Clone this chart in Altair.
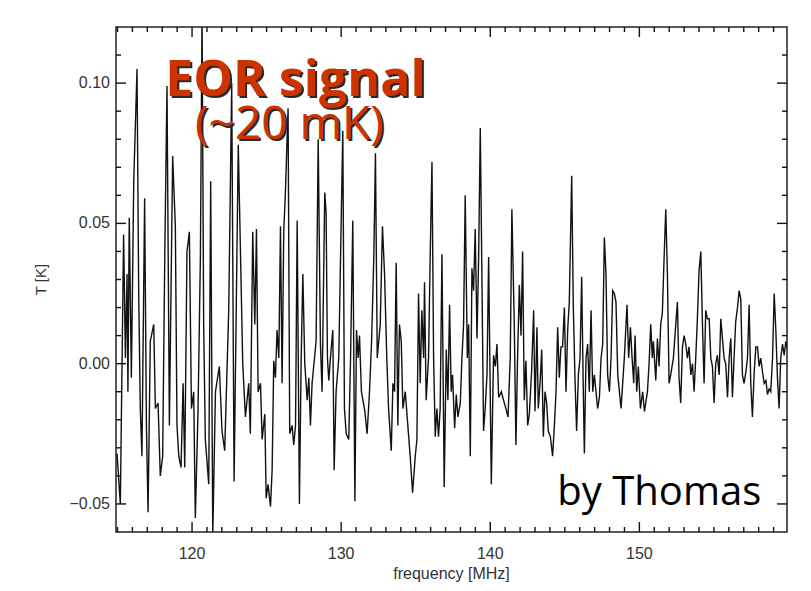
import altair as alt
import pandas as pd

# ---- data (frequency in MHz, brightness temperature in K) ----
FREQ = [
    114.97, 115.19, 115.41, 115.53, 115.64, 115.70, 115.79, 115.93, 116.09, 116.31,
    116.42, 116.53, 116.64, 116.82, 116.94, 117.05, 117.20, 117.43, 117.54, 117.72,
    117.87, 118.03, 118.17, 118.32, 118.48, 118.70, 118.88, 118.99, 119.11, 119.26,
    119.40, 119.51, 119.66, 119.82, 119.96, 120.11, 120.22, 120.40, 120.56, 120.67,
    120.78, 120.89, 121.12, 121.25, 121.39, 121.57, 121.83, 122.01, 122.19, 122.46,
    122.66, 122.82, 123.10, 123.40, 123.58,
    123.80, 123.91, 124.07, 124.21, 124.32, 124.43, 124.59, 124.70, 124.88, 124.97,
    125.10, 125.26, 125.37, 125.48, 125.59, 125.70, 125.82, 125.93, 126.04, 126.15,
    126.26, 126.44, 126.55, 126.71, 126.82, 126.94, 127.05, 127.20, 127.32, 127.43,
    127.56, 127.72, 127.83, 127.94, 128.05, 128.32, 128.46, 128.61, 128.72, 128.90,
    128.99, 129.08, 129.17, 129.28, 129.44, 129.53, 129.66, 129.84, 129.96, 130.11,
    130.22, 130.34, 130.51, 130.63, 130.78, 130.92, 131.03, 131.14, 131.23, 131.36,
    131.59, 131.74, 131.90, 132.04, 132.19, 132.30, 132.42,
    132.62, 132.77, 132.91, 133.06, 133.18, 133.36, 133.47, 133.58, 133.69, 133.80,
    133.91, 134.03, 134.14, 134.30, 134.47, 134.63, 134.79, 134.97, 135.08, 135.19,
    135.30, 135.41, 135.53, 135.59, 135.70, 135.86, 135.97, 136.09, 136.20, 136.31,
    136.42, 136.53, 136.64, 136.76, 136.91, 137.05, 137.16, 137.27, 137.38, 137.47,
    137.61, 137.72, 137.83, 137.99, 138.10, 138.21, 138.32, 138.46, 138.55, 138.66,
    138.77, 138.88, 138.99, 139.11, 139.22, 139.33, 139.44, 139.55, 139.66, 139.78,
    139.89, 140.07, 140.22, 140.34, 140.45, 140.56, 140.74, 140.89, 141.05, 141.19,
    141.34, 141.45,
    141.61, 141.72, 141.83, 141.95, 142.06, 142.17, 142.28, 142.39, 142.51, 142.62,
    142.77, 142.91, 143.00, 143.13, 143.22, 143.36, 143.45, 143.56, 143.67, 143.78,
    143.89, 144.03, 144.18, 144.30, 144.41, 144.52, 144.63, 144.74, 144.85, 144.97,
    145.08, 145.19, 145.30, 145.46, 145.57, 145.68, 145.79, 145.91, 146.02, 146.13,
    146.24, 146.31, 146.42, 146.53, 146.64, 146.76, 146.87, 146.98, 147.09, 147.20,
    147.32, 147.43, 147.54, 147.65, 147.76, 147.87, 147.99, 148.10, 148.21, 148.32,
    148.43, 148.55, 148.66, 148.77, 148.88, 148.99, 149.17, 149.28, 149.40, 149.51,
    149.62, 149.71, 149.82, 149.93, 150.07, 150.22, 150.34,
    150.54, 150.65, 150.76, 150.87, 150.94, 151.10, 151.21, 151.32, 151.43, 151.54,
    151.66, 151.77, 151.88, 151.99, 152.10, 152.28, 152.44, 152.55, 152.66, 152.77,
    152.89, 153.00, 153.11, 153.22, 153.33, 153.45, 153.56, 153.67, 153.78, 153.89,
    154.00, 154.12, 154.23, 154.34, 154.45, 154.56, 154.68, 154.79, 154.90, 155.01,
    155.12, 155.23, 155.35, 155.46, 155.57, 155.68, 155.79, 155.91, 156.02, 156.13,
    156.24, 156.35, 156.46, 156.58, 156.69, 156.80, 156.91, 157.02, 157.14, 157.25,
    157.36, 157.47, 157.58, 157.70, 157.81, 157.92, 158.03, 158.14, 158.26, 158.37,
    158.49, 158.59, 158.70, 158.81, 158.93, 159.04, 159.15, 159.26, 159.37, 159.48,
    159.60, 159.71, 159.82, 159.93,
]

TEMP = [
    -0.032, -0.050, 0.046, 0.002, 0.032, -0.010, 0.052, -0.005, 0.065, 0.105,
    0.026, -0.016, -0.033, 0.059, -0.022, -0.053, 0.008, 0.014, -0.016, -0.014,
    -0.040, -0.033, 0.038, 0.099, -0.022, 0.074, 0.049, -0.022, -0.033, -0.037,
    -0.007, -0.037, 0.040, 0.047, -0.016, -0.010, -0.055, -0.017, 0.038, 0.125,
    0.014, -0.027, -0.043, 0.065, -0.061, -0.010, -0.001, -0.024, -0.031, 0.019,
    0.100, -0.042, 0.078, 0.000, -0.019,
    -0.007, -0.025, 0.047, 0.014, 0.048, -0.010, -0.007, -0.027, -0.018, -0.048,
    -0.043, -0.051, -0.038, 0.001, -0.005, 0.012, 0.002, 0.049, -0.007, 0.047,
    0.061, 0.091, -0.025, -0.022, -0.029, -0.022, 0.051, -0.050, 0.002, 0.032,
    0.000, -0.013, -0.005, -0.022, -0.007, 0.008, 0.080, 0.007, -0.010, 0.061,
    0.054, 0.002, -0.006, 0.002, 0.012, -0.038, -0.010, 0.002, 0.038, 0.083,
    -0.016, -0.025, -0.027, 0.002, 0.051, -0.049, 0.012, 0.002, 0.010, -0.010,
    -0.017, -0.025, -0.010, 0.008, 0.038, 0.075, 0.002,
    0.014, 0.049, 0.032, 0.002, -0.016, -0.031, -0.007, -0.010, 0.036, -0.022,
    0.014, 0.008, -0.016, -0.010, -0.022, -0.033, -0.046, -0.033, -0.027, 0.025,
    -0.007, 0.019, 0.002, 0.029, -0.013, 0.002, 0.038, 0.072, 0.002, -0.026,
    -0.016, -0.026, -0.016, 0.039, -0.044, 0.005, -0.013, 0.021, -0.010, -0.004,
    -0.023, -0.011, -0.019, -0.014, 0.002, 0.014, 0.060, 0.002, 0.014, -0.033,
    0.034, 0.026, 0.048, 0.009, 0.038, 0.084, 0.031, -0.024, -0.016, -0.004,
    0.038, -0.043, 0.003, -0.001, 0.007, -0.012, -0.010, -0.013, -0.016, -0.019,
    0.002, 0.055,
    0.014, -0.029, 0.002, 0.028, 0.010, 0.040, -0.013, 0.001, -0.022, -0.018,
    -0.003, 0.019, -0.017, 0.013, -0.016, -0.005, 0.005, -0.026, -0.010, -0.014,
    -0.024, -0.026, -0.033, -0.022, -0.010, 0.013, -0.005, 0.006, 0.006, 0.020,
    -0.010, 0.012, 0.022, 0.067, 0.020, -0.005, -0.024, -0.004, 0.002, 0.031,
    -0.010, -0.032, 0.002, 0.007, -0.010, 0.019, -0.010, -0.004, -0.010, -0.016,
    -0.012, 0.002, 0.007, 0.045, 0.032, -0.004, -0.010, 0.002, 0.026, 0.025,
    0.022, -0.004, -0.010, -0.016, -0.007, 0.002, 0.021, 0.002, 0.013, 0.002,
    -0.007, 0.010, -0.010, -0.001, -0.016, -0.010, -0.017,
    -0.010, 0.000, 0.014, 0.002, 0.008, -0.006, 0.009, -0.001, 0.014, 0.018,
    0.038, 0.055, 0.032, -0.007, -0.004, 0.002, 0.014, 0.022, -0.005, -0.014,
    0.006, 0.010, 0.007, 0.002, 0.006, -0.004, 0.000, -0.010, 0.002, 0.016,
    0.033, 0.040, 0.014, -0.007, 0.019, 0.016, 0.016, 0.002, -0.001, -0.014,
    0.000, 0.003, -0.004, 0.016, 0.009, 0.002, 0.000, -0.012, 0.002, 0.009,
    -0.012, 0.002, 0.015, 0.020, 0.026, 0.023, -0.004, -0.007, -0.003, 0.002,
    0.021, -0.007, -0.019, -0.003, 0.006, 0.006, -0.001, 0.002, -0.003, -0.007,
    -0.006, -0.011, -0.009, -0.010, 0.002, 0.025, 0.012, -0.005, -0.016, 0.002,
    0.007, 0.003, 0.008, 0.005,
]

X_DOMAIN = [114.9, 159.9]
Y_DOMAIN = [-0.06, 0.12]
X_MAJOR = [120, 130, 140, 150]
X_LABELS = ["120", "130", "140", "150"]
X_MINOR = [115, 116, 117, 118, 119, 121, 122, 123, 124, 125, 126, 127, 128, 129,
           131, 132, 133, 134, 135, 136, 137, 138, 139, 141, 142, 143, 144, 145,
           146, 147, 148, 149, 151, 152, 153, 154, 155, 156, 157, 158, 159]
Y_MAJOR = [-0.05, 0.0, 0.05, 0.10]
Y_LABELS = ["\u22120.05", "0.00", "0.05", "0.10"]
Y_MINOR = [-0.04, -0.03, -0.02, -0.01, 0.01, 0.02, 0.03, 0.04,
           0.06, 0.07, 0.08, 0.09, 0.11]
X_TITLE = "frequency [MHz]"
Y_TITLE = "T [K]"

ANNOT_TEXT = ["EOR signal", "(~20 mK)", "by Thomas"]
ANNOT_FREQ = [118.2, 120.2, 144.5]
ANNOT_T = [0.0955, 0.0800, -0.0502]

W, H = 671, 505
# tick lengths expressed in data units (10 px major, 5 px minor)
XT_MAJ = (Y_DOMAIN[1] - Y_DOMAIN[0]) * 10 / H
XT_MIN = XT_MAJ / 2
YT_MAJ = (X_DOMAIN[1] - X_DOMAIN[0]) * 10 / W
YT_MIN = YT_MAJ / 2

df = pd.DataFrame({"freq": FREQ, "T": TEMP})

xs = alt.Scale(domain=X_DOMAIN, nice=False, zero=False)
ys = alt.Scale(domain=Y_DOMAIN, nice=False, zero=False)

AX_FONT = "Liberation Sans"
AX_COLOR = "#333333"

line = alt.Chart(df).mark_line(color="#111", strokeWidth=1.4, clip=True).encode(
    x=alt.X("freq:Q", scale=xs, axis=None),
    y=alt.Y("T:Q", scale=ys, axis=None),
)

# ---- tick marks on all four sides, pointing inwards (as short line segments) ----
ylo, yhi = Y_DOMAIN
xlo, xhi = X_DOMAIN
tick_rows = []
tid = 0
for values, t_len in ((X_MAJOR, XT_MAJ), (X_MINOR, XT_MIN)):
    for v in values:
        for edge, sign in ((ylo, 1), (yhi, -1)):
            tick_rows.append({"freq": v, "T": edge, "tid": tid})
            tick_rows.append({"freq": v, "T": edge + sign * t_len, "tid": tid})
            tid += 1
for values, f_len in ((Y_MAJOR, YT_MAJ), (Y_MINOR, YT_MIN)):
    for v in values:
        for edge, sign in ((xlo, 1), (xhi, -1)):
            tick_rows.append({"freq": edge, "T": v, "tid": tid})
            tick_rows.append({"freq": edge + sign * f_len, "T": v, "tid": tid})
            tid += 1
tick_df = pd.DataFrame(tick_rows)

ticks = alt.Chart(tick_df).mark_line(color="#111111", strokeWidth=1.4).encode(
    x=alt.X("freq:Q", scale=xs, axis=None),
    y=alt.Y("T:Q", scale=ys, axis=None),
    detail="tid:N",
)

# tick labels (drawn from the tick value lists through the scales)
x_lab = alt.Chart(pd.DataFrame({"freq": X_MAJOR, "lab": X_LABELS})).mark_text(
    font=AX_FONT, fontSize=16, color=AX_COLOR, align="center", baseline="top",
).encode(x=alt.X("freq:Q", scale=xs, axis=None), y=alt.value(H + 14),
         text="lab:N")

y_lab = alt.Chart(pd.DataFrame({"T": Y_MAJOR, "lab": Y_LABELS})).mark_text(
    font=AX_FONT, fontSize=16, color=AX_COLOR, align="right", baseline="middle",
).encode(y=alt.Y("T:Q", scale=ys, axis=None), x=alt.value(-6),
         text="lab:N")

x_title = alt.Chart(pd.DataFrame({"t": [X_TITLE]})).mark_text(
    font=AX_FONT, fontSize=16, color=AX_COLOR, align="center", baseline="middle",
).encode(x=alt.value(W / 2), y=alt.value(H + 42), text="t:N")

y_title = alt.Chart(pd.DataFrame({"t": [Y_TITLE]})).mark_text(
    font=AX_FONT, fontSize=15, color=AX_COLOR, align="center", baseline="middle",
    angle=270,
).encode(x=alt.value(-75), y=alt.value(H / 2), text="t:N")


def text_layer(i, color, size, weight, dx=0, dy=0):
    d = pd.DataFrame({"freq": [ANNOT_FREQ[i]], "T": [ANNOT_T[i]],
                      "label": [ANNOT_TEXT[i]]})
    return alt.Chart(d).mark_text(
        align="left", baseline="alphabetic", font="Open Sans",
        fontSize=size, fontWeight=weight, color=color, dx=dx, dy=dy,
    ).encode(
        x=alt.X("freq:Q", scale=xs, axis=None),
        y=alt.Y("T:Q", scale=ys, axis=None),
        text="label:N",
    )


ORANGE = "#cc3300"
SHADOW = "#2a2a2a"
texts = [
    text_layer(0, SHADOW, 50, "bold", 2, 2),
    text_layer(0, ORANGE, 50, "bold"),
    text_layer(1, SHADOW, 46, "normal", 2, 2),
    text_layer(1, ORANGE, 46, "normal"),
    text_layer(2, "#000000", 40, "normal"),
]

chart = alt.layer(line, ticks, x_lab, y_lab, x_title, y_title, *texts).properties(
    width=W, height=H,
    autosize=alt.AutoSizeParams(type="none"),
    padding={"left": 108, "top": 19, "right": 12, "bottom": 50},
).configure(background="white").configure_view(stroke="#222", strokeWidth=1.5)

chart.save("out.html", embed_options={"renderer": "svg", "actions": False})
